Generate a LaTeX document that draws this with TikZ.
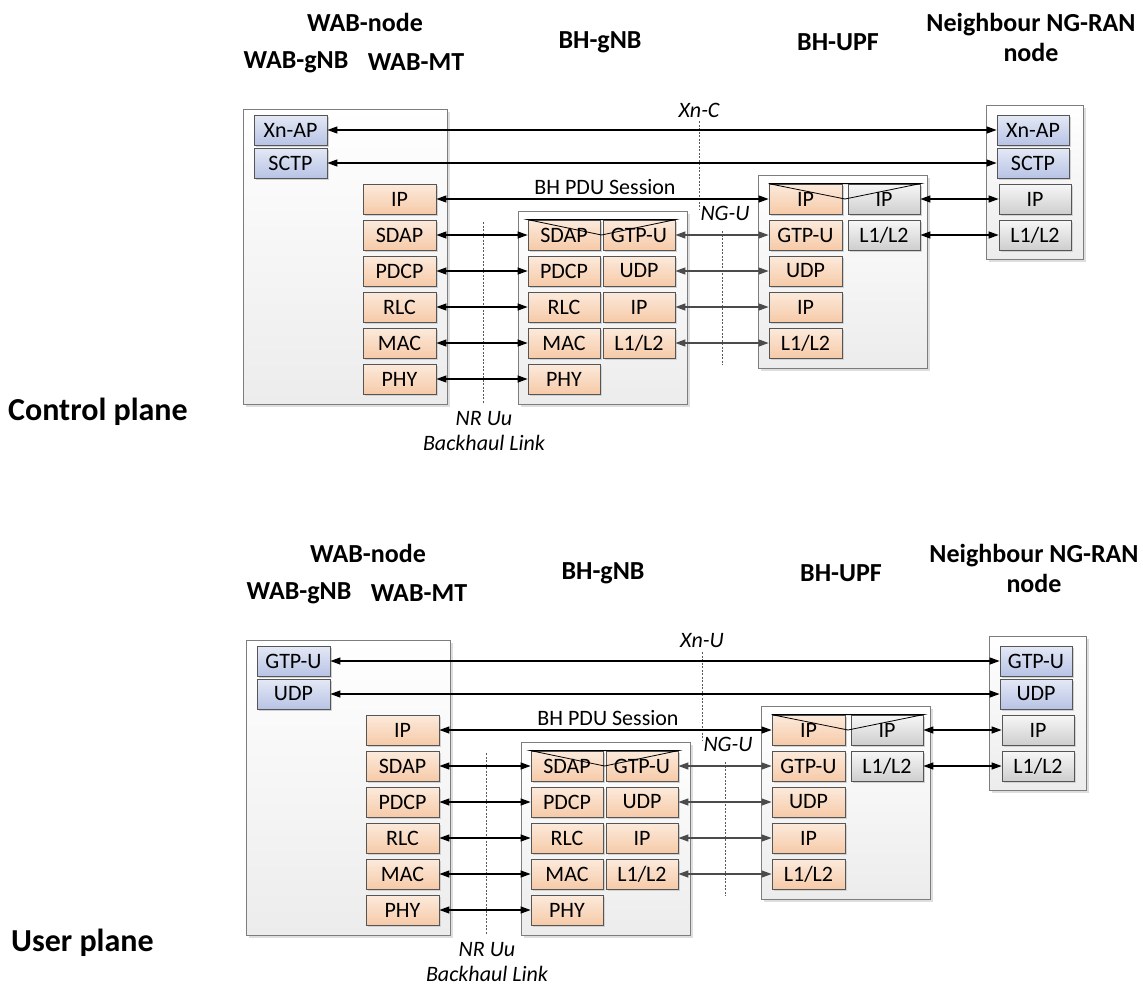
\documentclass[tikz,border=0pt]{standalone}
\usepackage{fontspec}
\setmainfont{Carlito}
\usetikzlibrary{arrows.meta,shadows,calc}

\definecolor{orT}{RGB}{252,234,220}
\definecolor{orB}{RGB}{246,202,168}
\definecolor{blT}{RGB}{228,233,246}
\definecolor{blB}{RGB}{184,195,229}
\definecolor{grT}{RGB}{247,247,247}
\definecolor{grB}{RGB}{206,206,206}
\definecolor{ctB}{RGB}{236,236,236}
\definecolor{ctLine}{RGB}{125,125,125}
\definecolor{bxLine}{RGB}{85,85,85}
\definecolor{garrC}{RGB}{75,75,75}

\newcommand\boxfont{\fontsize{22}{26}\selectfont}
\newcommand\hdrfont{\fontsize{26}{30}\selectfont\bfseries}
\newcommand\planefont{\fontsize{32}{36}\selectfont\bfseries}

\tikzset{
  cont/.style={draw=ctLine, line width=0.8pt, top color=white, bottom color=ctB, inner sep=0pt,
    drop shadow={shadow xshift=3pt, shadow yshift=-3pt, fill=black!13, opacity=1}},
  box/.style={draw=bxLine, line width=0.8pt, minimum width=73pt, minimum height=30pt, inner sep=0pt,
    font=\boxfont, text=black,
    drop shadow={shadow xshift=2pt, shadow yshift=-2pt, fill=black!18, opacity=1}},
  orbox/.style={box, top color=orT, bottom color=orB},
  blbox/.style={box, top color=blT, bottom color=blB},
  grbox/.style={box, top color=grT, bottom color=grB},
  barr/.style={{Triangle[length=10pt,width=7pt]}-{Triangle[length=10pt,width=7pt]}, line width=1.2pt, black},
  garr/.style={{Triangle[length=10pt,width=7pt]}-{Triangle[length=10pt,width=7pt]}, line width=1.2pt, garrC},
  dsh/.style={dash pattern=on 2pt off 1.5pt, line width=0.7pt, black!65},
  hdr/.style={font=\hdrfont, inner sep=0pt},
  txt/.style={font=\boxfont, inner sep=0pt},
  ital/.style={font=\boxfont\itshape, inner sep=0pt},
  planelbl/.style={font=\planefont, inner sep=0pt, anchor=west},
  cross/.style={line width=0.8pt, black}
}

% #1 xshift, #2 yshift, #3 prefix, #4 first blue, #5 second blue, #6 interface label, #7 plane label
\newcommand\drawplane[7]{%
\begin{scope}[shift={(#1,#2)}]
  % headers
  \node[hdr] (#3hA) at (365,22) {WAB-node};
  \node[hdr] (#3hB) at (296,62) {WAB-gNB};
  \node[hdr] (#3hC) at (416,62) {WAB-MT};
  \node[hdr] (#3hD) at (600,42) {BH-gNB};
  \node[hdr] (#3hE) at (838,42) {BH-UPF};
  \node[hdr, align=center] (#3hF) at (1031,37) {Neighbour NG-RAN\\node};
  \node[planelbl] (#3pl) at (8,412) {#7};
  % containers
  \node[cont, minimum width=204pt, minimum height=295pt] (#3W) at (345,256.5) {};
  \node[cont, minimum width=169pt, minimum height=193pt] (#3G) at (602.5,307.5) {};
  \node[cont, minimum width=169pt, minimum height=193pt] (#3U) at (842.5,271.5) {};
  \node[cont, minimum width=97pt, minimum height=154pt] (#3N) at (1034.5,182) {};
  % WAB-node boxes
  \node[blbox] (#3wa) at (290.5,130) {#4};
  \node[blbox] (#3wb) at (290.5,163) {#5};
  \node[orbox] (#3w1) at (399.5,199) {IP};
  \node[orbox] (#3w2) at (399.5,235) {SDAP};
  \node[orbox] (#3w3) at (399.5,271) {PDCP};
  \node[orbox] (#3w4) at (399.5,307) {RLC};
  \node[orbox] (#3w5) at (399.5,343) {MAC};
  \node[orbox] (#3w6) at (399.5,379) {PHY};
  % BH-gNB boxes
  \node[orbox, minimum width=72pt] (#3g2) at (564,235) {SDAP};
  \node[orbox, minimum width=72pt] (#3g3) at (564,271) {PDCP};
  \node[orbox, minimum width=72pt] (#3g4) at (564,307) {RLC};
  \node[orbox, minimum width=72pt] (#3g5) at (564,343) {MAC};
  \node[orbox, minimum width=72pt] (#3g6) at (564,379) {PHY};
  \node[orbox, minimum width=72pt] (#3h2) at (639,235) {GTP-U};
  \node[orbox, minimum width=72pt] (#3h3) at (639,271) {UDP};
  \node[orbox, minimum width=72pt] (#3h4) at (639,307) {IP};
  \node[orbox, minimum width=72pt] (#3h5) at (639,343) {L1/L2};
  % BH-UPF boxes
  \node[orbox] (#3u1) at (805.5,199) {IP};
  \node[orbox] (#3u2) at (805.5,235) {GTP-U};
  \node[orbox] (#3u3) at (805.5,271) {UDP};
  \node[orbox] (#3u4) at (805.5,307) {IP};
  \node[orbox] (#3u5) at (805.5,343) {L1/L2};
  \node[grbox, minimum width=72pt] (#3v1) at (884,199) {IP};
  \node[grbox, minimum width=72pt] (#3v2) at (884,235) {L1/L2};
  % Neighbour boxes
  \node[blbox, minimum width=72pt] (#3na) at (1033,130) {#4};
  \node[blbox, minimum width=72pt] (#3nb) at (1033,163) {#5};
  \node[grbox, minimum width=72pt] (#3n1) at (1035,199) {IP};
  \node[grbox, minimum width=72pt] (#3n2) at (1035,235) {L1/L2};
  % crossed-out triangles
  \draw[cross] (#3g2.north west) -- (#3h2.north east) -- ($(#3g2.east)!.5!(#3h2.west)$) -- cycle;
  \draw[cross] (#3u1.north west) -- (#3v1.north east) -- ($(#3u1.east)!.5!(#3v1.west)$) -- cycle;
  % dashed reference lines
  \coordinate (#3d1a) at (483,222); \coordinate (#3d1b) at (483,404);
  \coordinate (#3d2a) at (699,121); \coordinate (#3d2b) at (699,210);
  \coordinate (#3d3a) at (722,231); \coordinate (#3d3b) at (722,365);
  \draw[dsh] (#3d1a) -- (#3d1b);
  \draw[dsh] (#3d2a) -- (#3d2b);
  \draw[dsh] (#3d3a) -- (#3d3b);
  % connectors
  \draw[barr] (#3wa) -- (#3na);
  \draw[barr] (#3wb) -- (#3nb);
  \draw[barr] (#3w1) -- (#3u1);
  \draw[barr] (#3w2) -- (#3g2);
  \draw[barr] (#3w3) -- (#3g3);
  \draw[barr] (#3w4) -- (#3g4);
  \draw[barr] (#3w5) -- (#3g5);
  \draw[barr] (#3w6) -- (#3g6);
  \draw[garr] (#3h2) -- (#3u2);
  \draw[garr] (#3h3) -- (#3u3);
  \draw[garr] (#3h4) -- (#3u4);
  \draw[garr] (#3h5) -- (#3u5);
  \draw[barr] (#3v1) -- (#3n1);
  \draw[barr] (#3v2) -- (#3n2);
  % labels
  \node[ital] (#3lx) at (699,110) {#6};
  \node[ital] (#3lng) at (725,213) {NG-U};
  \node[txt] (#3lbh) at (605,187) {BH PDU Session};
  \node[ital] (#3lnr) at (484,419) {NR Uu};
  \node[ital] (#3lbl) at (484,443) {Backhaul Link};
\end{scope}}

\begin{document}
\begin{tikzpicture}[x=1pt,y=-1pt]
  \useasboundingbox (0,0) rectangle (1143,985);
  \drawplane{0}{0}{c}{Xn-AP}{SCTP}{Xn-C}{Control plane}
  \drawplane{3}{531}{u}{GTP-U}{UDP}{Xn-U}{User plane}
\end{tikzpicture}
\end{document}
